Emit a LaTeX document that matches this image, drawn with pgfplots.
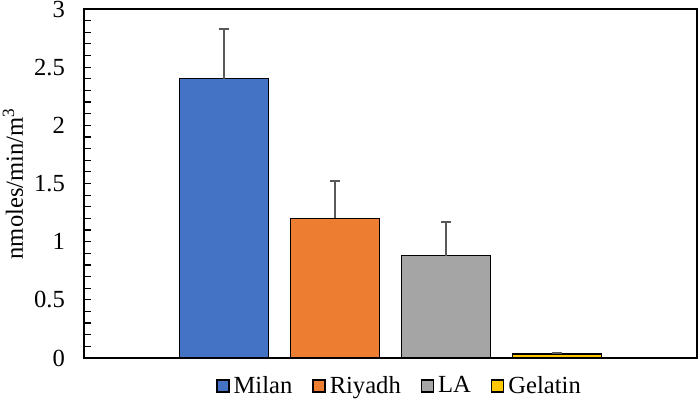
\documentclass[border=0pt]{standalone}
\usepackage{fontspec}
\setmainfont{Liberation Serif}
\usepackage{pgfplots}
\pgfplotsset{compat=1.18}
\usetikzlibrary{calc}
\definecolor{cMilan}{HTML}{4472C4}
\definecolor{cRiyadh}{HTML}{ED7D31}
\definecolor{cLA}{HTML}{A5A5A5}
\definecolor{cGel}{HTML}{FFC800}
\definecolor{errc}{HTML}{595959}
\begin{document}
\begin{tikzpicture}
\begin{axis}[
  name=ax,
  scale only axis,
  width=306.5pt, height=174.5pt,
  xmin=-1.26, xmax=4.26,
  ymin=0, ymax=3,
  ytick={0,0.5,...,3},
  minor y tick num=4,
  xtick=\empty,
  ytick pos=left,
  tick align=inside,
  major tick length=3.5pt, minor tick length=3.5pt,
  every tick/.style={black, line width=0.6pt},
  axis line style={line width=0.8pt},
  font=\fontsize{12.3}{14}\selectfont,
  /pgf/number format/assume math mode=true,
  yticklabel style={xshift=-6pt},
  ylabel={nmoles/min/m\textsuperscript{3}},
  ylabel style={at={(axis description cs:-0.1158,0.5)}, anchor=center, rotate=0},
  bar width=0.8, ybar, bar shift=0pt,
  legend columns=-1,
  legend style={draw=none, fill=none, at={(0.5,0)}, anchor=center,
    xshift=5pt, yshift=-14pt, font=\fontsize{12.3}{14}\selectfont,
    /tikz/every even column/.append style={column sep=8pt}},
  legend image code/.code={\draw[#1, draw=black, line width=0.7pt] (0pt,-3pt) rectangle (6pt,3pt);},
  error bars/y dir=plus, error bars/y explicit,
  error bars/error bar style={errc, line width=0.9pt},
  error bars/error mark options={errc, line width=0.9pt, mark size=2.5pt, rotate=90},
]
\addplot[fill=cMilan, draw=black, line width=0.7pt] coordinates {(0,2.40) +- (0,0.43)};
\addplot[fill=cRiyadh, draw=black, line width=0.7pt] coordinates {(1,1.20) +- (0,0.32)};
\addplot[fill=cLA, draw=black, line width=0.7pt] coordinates {(2,0.88) +- (0,0.29)};
\addplot[fill=cGel, draw=black, line width=0.7pt] coordinates {(3,0.035) +- (0,0.006)};
\legend{Milan, Riyadh, LA, Gelatin}
\end{axis}
\pgfresetboundingbox
\path ($(ax.south west)+(-42pt,-26pt)$) rectangle ($(ax.north east)+(1.5pt,4.5pt)$);
\end{tikzpicture}
\end{document}
